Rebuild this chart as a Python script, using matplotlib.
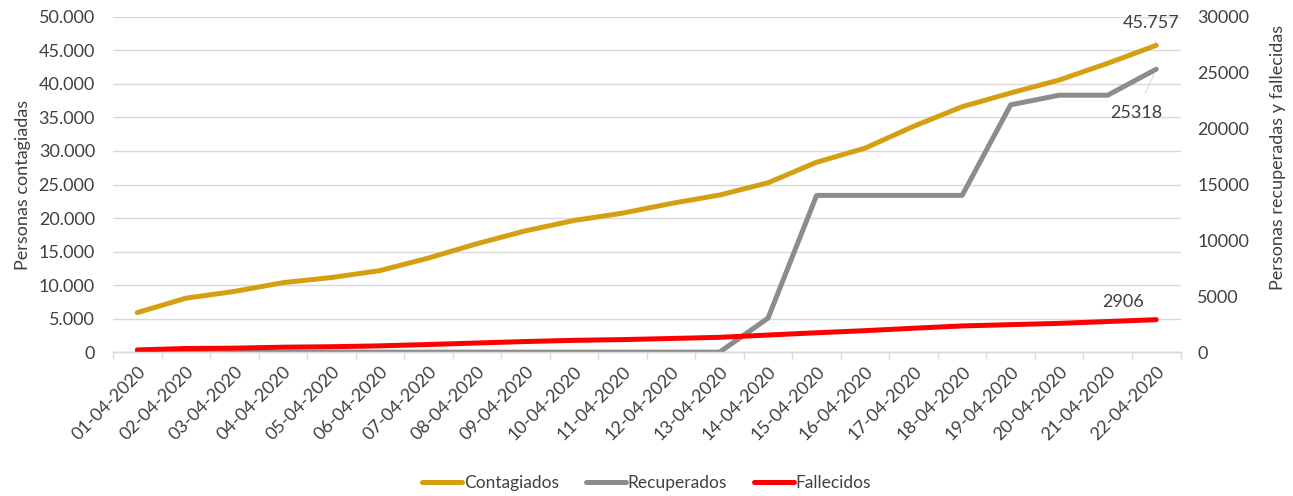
import matplotlib
matplotlib.use("Agg")
import matplotlib.pyplot as plt
from matplotlib.ticker import FixedLocator, FuncFormatter

plt.rcParams['font.family'] = ['Lato', 'DejaVu Sans']

fechas = ["01-04-2020", "02-04-2020", "03-04-2020", "04-04-2020", "05-04-2020",
          "06-04-2020", "07-04-2020", "08-04-2020", "09-04-2020", "10-04-2020",
          "11-04-2020", "12-04-2020", "13-04-2020", "14-04-2020", "15-04-2020",
          "16-04-2020", "17-04-2020", "18-04-2020", "19-04-2020", "20-04-2020",
          "21-04-2020", "22-04-2020"]
contagiados = [5900, 8044, 9056, 10360, 11130, 12161, 14034, 16170, 18092, 19638,
               20727, 22169, 23430, 25262, 28320, 30425, 33682, 36599, 38654, 40581,
               43079, 45757]
recuperados = [0, 0, 0, 0, 0, 0, 0, 0, 0, 0,
               0, 0, 0, 3046, 14026, 14026, 14026, 14026, 22130, 22991,
               22991, 25318]
fallecidos = [201, 327, 359, 445, 486, 564, 686, 819, 950, 1057,
              1124, 1223, 1328, 1532, 1736, 1924, 2141, 2347, 2462, 2575,
              2741, 2906]

c_gold = '#D4A012'
c_gray = '#8C8C8C'
c_red = '#FF0000'
c_text = '#404040'
fs = 13

fig = plt.figure(figsize=(12.93, 4.96), dpi=100)
ax = fig.add_axes([0.0874, 0.290, 0.8256, 0.676])
ax2 = ax.twinx()

x = list(range(len(fechas)))
l1, = ax.plot(x, contagiados, color=c_gold, lw=3.6, solid_capstyle='round', label='Contagiados')
l2, = ax2.plot(x, recuperados, color=c_gray, lw=3.6, solid_capstyle='round', label='Recuperados')
l3, = ax2.plot(x, fallecidos, color=c_red, lw=3.6, solid_capstyle='round', label='Fallecidos')

ax.set_xlim(-0.5, len(fechas) - 0.5)
ax.set_ylim(0, 50000)
ax2.set_ylim(0, 30000)
ax.set_yticks(range(0, 50001, 5000))
ax2.set_yticks(range(0, 30001, 5000))
ax.yaxis.set_major_formatter(FuncFormatter(lambda v, p: f"{v:,.0f}".replace(',', '.')))
ax2.yaxis.set_major_formatter(FuncFormatter(lambda v, p: f"{v:.0f}"))

ax.set_xticks(x)
ax.set_xticklabels(fechas, rotation=45, ha='right', rotation_mode='anchor',
                   fontsize=fs, color=c_text)
ax.xaxis.set_minor_locator(FixedLocator([i - 0.5 for i in range(len(fechas) + 1)]))
ax.tick_params(axis='x', which='major', length=0, pad=8)
ax.tick_params(axis='x', which='minor', length=5, color='#D9D9D9', width=1)
ax.tick_params(axis='y', length=0, labelsize=fs, labelcolor=c_text, pad=13)
ax2.tick_params(axis='y', length=0, labelsize=fs, labelcolor=c_text, pad=12)

ax.grid(axis='y', color='#D9D9D9', lw=1)
ax.set_axisbelow(True)
for a in (ax, ax2):
    for s in ('top', 'left', 'right'):
        a.spines[s].set_visible(False)
    a.spines['bottom'].set_color('#D9D9D9')
    a.spines['bottom'].set_linewidth(1)

ax.set_ylabel('Personas contagiadas', fontsize=fs, color=c_text)
ax.yaxis.set_label_coords(-0.077, 0.5)
ax2.set_ylabel('Personas recuperadas y fallecidas', fontsize=fs, color=c_text)
ax2.yaxis.set_label_coords(1.084, 0.58)

last = len(fechas) - 1
ax.annotate(f"{contagiados[-1]:,}".replace(',', '.'), xy=(last, contagiados[-1]),
            xytext=(-3.6, 16), textcoords='offset points', ha='center', va='center',
            fontsize=fs, color=c_text,
            arrowprops=dict(arrowstyle='-', color='#D9D9D9', lw=0.8, shrinkA=5, shrinkB=2))
ax2.annotate(f"{recuperados[-1]}", xy=(last, recuperados[-1]),
             xytext=(-14.4, -31.7), textcoords='offset points', ha='center', va='center',
             fontsize=fs, color=c_text,
             arrowprops=dict(arrowstyle='-', color='#D9D9D9', lw=0.8, shrinkA=7, shrinkB=4))
ax2.annotate(f"{fallecidos[-1]}", xy=(last, fallecidos[-1]),
             xytext=(-23.8, 12.6), textcoords='offset points', ha='center', va='center',
             fontsize=fs, color=c_text)

fig.legend(handles=[l1, l2, l3], loc='center', bbox_to_anchor=(0.5, 0.027), ncol=3,
           frameon=False, fontsize=12.5, handlelength=2.3, handletextpad=0.1,
           columnspacing=1.55, labelcolor=c_text)

fig.savefig('out.png', dpi=100)
